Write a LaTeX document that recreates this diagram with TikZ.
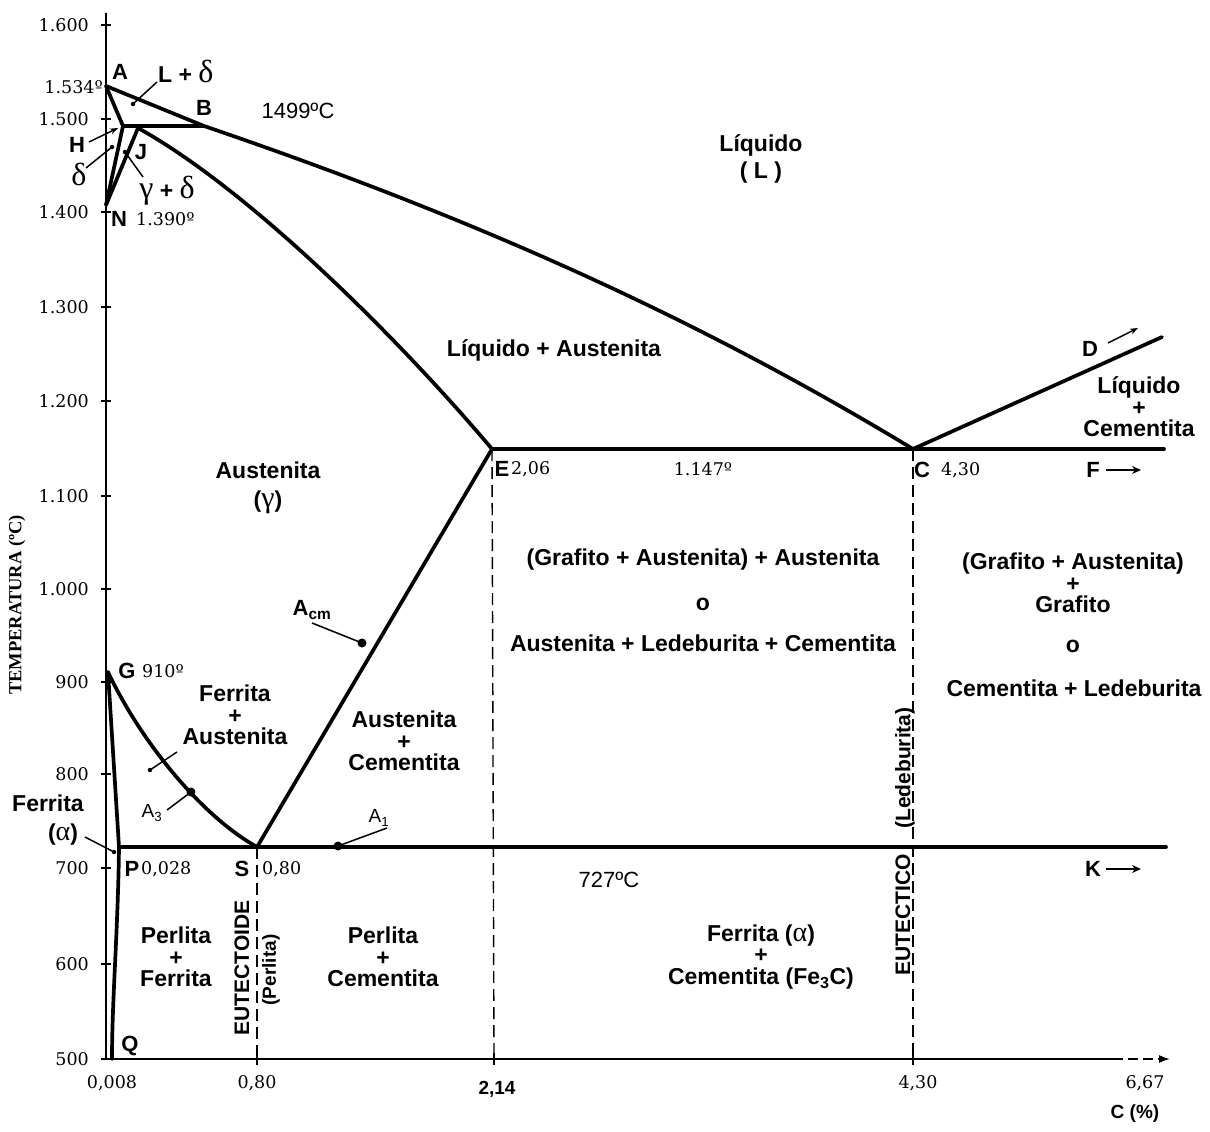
\documentclass[tikz,border=0pt]{standalone}
\usepackage{fontspec}
\setmainfont{Liberation Serif}
\setsansfont{Liberation Sans}
\newfontfamily\numfont{DejaVu Serif}
\newfontfamily\grkfam{Liberation Serif}
\newcommand{\gr}[2]{{\grkfam\mdseries\fontsize{#1}{#1}\selectfont #2}}
\usetikzlibrary{arrows.meta}
\begin{document}
\begin{tikzpicture}[x=1pt,y=-1pt,
 phase/.style={line width=3.7pt,line join=round,line cap=round},
 ax/.style={line width=1.6pt},
 guide/.style={line width=1.4pt,dash pattern=on 12pt off 6pt},
 ptr/.style={line width=1.5pt},
 bigdot/.style={circle,fill=black,inner sep=0pt,minimum size=9pt},
 smalldot/.style={circle,fill=black,inner sep=0pt,minimum size=4.5pt},
 lab/.style={font=\fontsize{23}{21.5}\selectfont\sffamily\bfseries,align=center,inner sep=0pt},
 vlab/.style={font=\fontsize{21}{21}\selectfont\sffamily\bfseries,inner sep=0pt,rotate=90},
 pt/.style={font=\fontsize{22}{22}\selectfont\sffamily\bfseries,inner sep=0pt},
 num/.style={font=\fontsize{17.5}{18}\selectfont\numfont,inner sep=0pt},
 plain/.style={font=\fontsize{22}{22}\selectfont\sffamily,inner sep=0pt},
 harrow/.style={line width=2pt,-{Stealth[length=9pt,width=8pt]}}
]
\useasboundingbox (0,0) rectangle (1210,1132);

% ---------- key points ----------
\coordinate (A) at (106,86);
\coordinate (B) at (204,126);
\coordinate (H) at (123,126);
\coordinate (J) at (138,128);
\coordinate (N) at (106,205);
\coordinate (E) at (492,449);
\coordinate (C) at (913,449);
\coordinate (Dend) at (1162,337);
\coordinate (Fend) at (1164,449);
\coordinate (G) at (108,672);
\coordinate (P) at (119,847);
\coordinate (S) at (257,847);
\coordinate (Kend) at (1166,847);
\coordinate (Q) at (112,1059);
\coordinate (O) at (106,1059);
\coordinate (ytop) at (106,13);
\coordinate (xs) at (1113,1059);
\coordinate (xe) at (1170,1059);
\coordinate (x080) at (257,1059);
\coordinate (x214) at (494,1059);
\coordinate (x430) at (913,1059);

% ---------- axes ----------
\draw[ax] (O) -- (ytop);
\draw[ax] (O) -- (xs);
\draw[ax,dash pattern=on 10pt off 5pt,-{Latex[length=11pt,width=8pt]}] (xs) -- (xe);
\foreach \lab/\yy [count=\i] in {1.600/25,1.500/119,1.400/212,1.300/307,1.200/401,1.100/496,1.000/589,900/682,800/774,700/868,600/964,500/1059}{
  \coordinate (tl\i) at (101,\yy);
  \coordinate (tr\i) at (111,\yy);
  \draw[ax] (tl\i) -- (tr\i);
  \node[num,anchor=east] (yl\i) at (89,\yy) {\lab};
}
\foreach \xx [count=\i] in {257,494,913}{
  \coordinate (tu\i) at (\xx,1053);
  \coordinate (td\i) at (\xx,1065);
  \draw[ax] (tu\i) -- (td\i);
}
\node[num] (x1) at (112,1083) {0,008};
\node[num] (x2) at (257,1083) {0,80};
\node[font=\fontsize{19}{19}\selectfont\sffamily\bfseries,inner sep=0pt] (x3) at (497,1089) {2,14};
\node[num] (x4) at (918,1083) {4,30};
\node[num] (x5) at (1145,1083) {6,67};
\node[font=\fontsize{19}{19}\selectfont\sffamily\bfseries,inner sep=0pt] (xlab) at (1135,1114) {C (\%)};
\node[font=\fontsize{18.5}{18.5}\selectfont\bfseries,inner sep=0pt,rotate=90] (ylab) at (17,605) {TEMPERATURA (ºC)};

% ---------- dashed guides ----------
\draw[guide] (S) -- (x080);
\draw[guide] (E) -- (x214);
\draw[guide] (C) -- (x430);

% ---------- phase boundaries ----------
\draw[phase] (A) -- (B) .. controls (480,220) and (700,320) .. (C);
\draw[phase] (A) -- (H) -- (B);
\draw[phase] (H) -- (N);
\draw[phase] (J) -- (N);
\draw[phase] (J) .. controls (250,190) and (400,340) .. (E);
\draw[phase] (E) -- (Fend);
\draw[phase] (C) -- (Dend);
\draw[phase] (E) -- (S);
\draw[phase] (G) .. controls (140,740) and (200,815) .. (S);
\draw[phase] (G) -- (P);
\draw[phase] (P) .. controls (118,930) and (112,1000) .. (Q);
\draw[phase] (P) -- (Kend);

% ---------- pointers and dots ----------
\node[smalldot] (dLd) at (133,104) {};
\coordinate (pLd) at (157,82);
\draw[ptr] (pLd) -- (dLd.center);
\node[smalldot] (dd) at (112,147) {};
\coordinate (pd) at (86,168);
\draw[ptr] (pd) -- (dd.center);
\node[smalldot] (dgd) at (125,152) {};
\coordinate (pgd) at (143,177);
\draw[ptr] (pgd) -- (dgd.center);
\coordinate (hs) at (89,142);
\coordinate (he) at (118,128);
\draw[ptr,-{Stealth[length=8pt,width=6pt]}] (hs) -- (he);
\node[smalldot] (dfa) at (114,852) {};
\coordinate (pfa) at (85,837);
\draw[ptr] (pfa) -- (dfa.center);
\node[smalldot] (dfaus) at (150,770) {};
\coordinate (pfaus) at (177,752);
\draw[ptr] (pfaus) -- (dfaus.center);
\node[bigdot] (dA3) at (191,792) {};
\coordinate (pA3) at (167,810);
\draw[ptr] (pA3) -- (dA3.center);
\node[bigdot] (dAcm) at (362,643) {};
\coordinate (pAcm) at (312,623);
\draw[ptr] (pAcm) -- (dAcm.center);
\node[bigdot] (dA1) at (338,846) {};
\coordinate (pA1) at (387,828);
\draw[ptr] (pA1) -- (dA1.center);
\coordinate (das) at (1108,343);
\coordinate (dae) at (1138,328);
\draw[line width=1.5pt,-{Stealth[length=8pt,width=6pt]}] (das) -- (dae);

% ---------- point letters ----------
\node[pt] (lA) at (120,72) {A};
\node[pt] (lB) at (204,108) {B};
\node[pt] (lH) at (77,145) {H};
\node[pt] (lJ) at (141,152) {J};
\node[pt] (lN) at (119,219) {N};
\node[pt] (lE) at (502,469) {E};
\node[pt] (lC) at (922,470) {C};
\node[pt] (lD) at (1090,349) {D};
\node[pt] (lF) at (1093,470) {F};
\coordinate (fa1) at (1106,470);
\coordinate (fa2) at (1141,470);
\draw[harrow] (fa1) -- (fa2);
\node[pt] (lK) at (1093,869) {K};
\coordinate (ka1) at (1106,869);
\coordinate (ka2) at (1141,869);
\draw[harrow] (ka1) -- (ka2);
\node[pt] (lG) at (127,671) {G};
\node[pt] (lP) at (132,869) {P};
\node[pt] (lS) at (242,869) {S};
\node[pt] (lQ) at (130,1046) {Q};

% ---------- numeric labels ----------
\node[num,anchor=east] (n1534) at (103,87) {1.534º};
\node[num,anchor=west] (n1390) at (136,219) {1.390º};
\node[num,anchor=west] (n206) at (511,469) {2,06};
\node[num] (n1147) at (703,469) {1.147º};
\node[num,anchor=west] (n430) at (941,470) {4,30};
\node[num,anchor=west] (n910) at (142,671) {910º};
\node[num,anchor=west] (n028) at (141,869) {0,028};
\node[num,anchor=west] (n080) at (262,869) {0,80};
\node[plain] (t1499) at (298,111) {1499ºC};
\node[plain] (t727) at (609,880) {727ºC};

% ---------- phase labels ----------
\node[lab,anchor=west] (tLd) at (158,71) {L + \gr{32}{δ}};
\node[lab] (td) at (79,174) {\gr{32}{δ}};
\node[lab] (tgd) at (167,191) {\gr{32}{γ} + \gr{32}{δ}};
\node[lab] (tL) at (761,159) {Líquido\\[6pt]( L )};
\node[lab] (tLA) at (554,350) {Líquido + Austenita};
\node[lab] (tLC) at (1139,407) {Líquido\\+\\Cementita};
\node[lab] (tAg) at (268,488) {Austenita\\[8pt](\gr{30}{γ})};
\node[lab] (tGA1) at (703,560) {(Grafito + Austenita) + Austenita};
\node[lab] (tGA2) at (703,604) {o};
\node[lab] (tGA3) at (703,643) {Austenita + Ledeburita + Cementita};
\node[lab] (tGG1) at (1073,583) {(Grafito + Austenita)\\+\\Grafito};
\node[lab] (tGG2) at (1073,646) {o};
\node[lab] (tGG3) at (1074,688) {Cementita + Ledeburita};
\node[pt] (tAcm) at (312,610) {A\textsubscript{cm}};
\node[lab] (tFA) at (235,715) {Ferrita\\+\\Austenita};
\node[lab] (tAC) at (404,741) {Austenita\\+\\Cementita};
\node[vlab] (tLed) at (905,768) {(Ledeburita)};
\node[lab] (tFe) at (48,803) {Ferrita};
\node[lab] (tal) at (63,835) {(\gr{28}{α})};
\node[font=\fontsize{19}{19}\selectfont\sffamily,inner sep=0pt] (tA3) at (152,813) {A\textsubscript{3}};
\node[font=\fontsize{19}{19}\selectfont\sffamily,inner sep=0pt] (tA1) at (379,818) {A\textsubscript{1}};
\node[lab] (tPF) at (176,957) {Perlita\\+\\Ferrita};
\node[vlab] (tEut) at (242,968) {EUTECTOIDE};
\node[vlab,font=\fontsize{19}{19}\selectfont\sffamily\bfseries] (tPer) at (271,970) {(Perlita)};
\node[lab] (tPC) at (383,957) {Perlita\\+\\Cementita};
\node[lab] (tFC) at (761,957) {Ferrita (\gr{28}{α})\\+\\Cementita (Fe\textsubscript{3}C)};
\node[vlab] (tEtc) at (903,915) {EUTECTICO};
\end{tikzpicture}
\end{document}
